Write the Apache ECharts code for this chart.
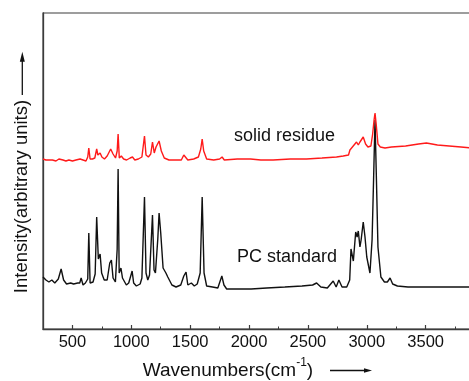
<!DOCTYPE html>
<html>
<head>
<meta charset="utf-8">
<script src="https://cdn.jsdelivr.net/npm/echarts@6/dist/echarts.min.js"></script>
<style>
  html, body { margin: 0; padding: 0; background: #fff; }
  #chart { width: 469px; height: 381px; }
</style>
</head>
<body>
<div id="chart"></div>
<script>
// Raman spectra: PC standard vs. solid residue (intensity in arbitrary units)
const pcWavenumber = [
  250, 275, 300, 325, 350, 380, 404, 425, 450, 485, 510, 545, 562, 574, 590, 610, 630, 639, 650,
  675, 693, 706, 720, 735, 748, 770, 795, 817, 831, 845, 865, 880, 888, 897, 912, 925, 940, 958,
  978, 1000, 1007, 1020, 1043, 1075, 1090, 1112, 1125, 1140, 1155, 1180, 1193, 1205, 1225, 1236,
  1250, 1270, 1294, 1310, 1325, 1345, 1380, 1420, 1446, 1465, 1480, 1510, 1535, 1560, 1585, 1602,
  1618, 1640, 1690, 1735, 1769, 1787, 1810, 1900, 2018, 2150, 2304, 2450, 2540, 2574, 2610, 2665,
  2715, 2740, 2763, 2790, 2830, 2855, 2866, 2886, 2906, 2918, 2928, 2942, 2952, 2970, 2985, 3000,
  3027, 3045, 3058, 3070, 3082, 3095, 3120, 3150, 3175, 3198, 3220, 3260, 3350, 3500, 3700, 3900
];
const pcIntensity = [
  52, 49, 47, 49, 46, 50, 60, 49, 45, 46, 45, 46, 46, 51, 44, 46, 50, 96, 46,
  47, 55, 112, 70, 75, 56, 49, 49, 66, 69, 51, 47, 80, 160, 56, 61, 51, 52, 44,
  46, 55, 58, 46, 43, 45, 51, 132, 56, 49, 54, 114, 59, 56, 90, 116,
  96, 61, 56, 52, 54, 44, 42, 44, 53, 57, 44, 46, 43, 45, 56, 132,
  56, 43, 42, 41, 53, 44, 40, 40, 40, 41, 42, 43, 44, 46, 42, 41,
  48, 42, 49, 42, 42, 49, 80, 68, 97, 92, 98, 82, 89, 107, 92, 72,
  56, 89, 150, 209, 150, 82, 52, 47, 47, 51, 45, 43, 42, 42, 42, 42
];

const residueWavenumber = [
  250, 275, 300, 330, 360, 385, 400, 420, 445, 470, 500, 530, 565, 590, 615, 630, 639, 650, 670,
  690, 706, 716, 735, 750, 772, 795, 825, 845, 866, 880, 888, 898, 915, 935, 960, 990, 1010, 1030,
  1060, 1090, 1112, 1125, 1145, 1165, 1180, 1195, 1210, 1236, 1255, 1280, 1320, 1380, 1425, 1446,
  1460, 1480, 1530, 1570, 1590, 1602, 1615, 1640, 1700, 1750, 1771, 1790, 1900, 2013, 2100, 2205,
  2350, 2488, 2620, 2743, 2800, 2845, 2857, 2870, 2885, 2900, 2913, 2928, 2942, 2955, 2970, 2990,
  3010, 3035, 3050, 3062, 3070, 3080, 3095, 3115, 3130, 3155, 3210, 3330, 3440, 3507, 3600, 3700,
  3800, 3900
];
const residueIntensity = [
  170, 169, 169, 169, 168, 170, 172, 169, 168, 169, 168, 169, 170, 169, 168, 172, 181, 170, 170,
  171, 180, 174, 176, 172, 170, 173, 180, 175, 171, 178, 195, 171, 173, 170, 169, 171, 172, 169,
  170, 172, 193, 174, 172, 175, 187, 176, 182, 188, 178, 171, 169, 169, 169, 174,
  172, 169, 170, 172, 180, 190, 178, 170, 169, 170, 172, 169, 170, 170, 169, 169,
  170, 170, 171, 172, 173, 174, 179, 180, 183, 185, 187, 184, 187, 188, 192, 185,
  182, 183, 195, 209, 216, 205, 185, 182, 180, 181, 182, 183, 185, 186, 184, 183,
  182, 181
];

const majorTicks = [500, 1000, 1500, 2000, 2500, 3000, 3500];
const minorTicks = [750, 1250, 1750, 2250, 2750, 3250, 3750];

const FONT = '"Liberation Sans", Arial, Helvetica, sans-serif';
const INK = '#111111';
const FRAME = '#3c3c3c';

const zip = (xs, ys) => xs.map((x, i) => [x, ys[i]]);

const chart = echarts.init(document.getElementById('chart'), null, { renderer: 'canvas' });

chart.setOption({
  animation: false,
  backgroundColor: '#ffffff',
  grid: {
    left: 43, top: 13, bottom: 52, right: -15.5,
    outerBoundsMode: 'none', containLabel: false,
    show: true, borderColor: FRAME, borderWidth: 1.2, backgroundColor: 'transparent'
  },
  xAxis: [
    {
      type: 'value', min: 250, max: 4000, position: 'bottom',
      axisLine: { show: true, lineStyle: { color: FRAME, width: 1.3 } },
      axisTick: { show: true, inside: true, length: 4, customValues: majorTicks,
                  lineStyle: { color: FRAME, width: 1.2 } },
      axisLabel: { show: true, customValues: majorTicks, margin: 5, color: INK,
                   fontSize: 16.5, fontFamily: FONT, formatter: v => String(v) },
      splitLine: { show: false }
    },
    {
      type: 'value', min: 250, max: 4000, position: 'bottom',
      axisLine: { show: false },
      axisTick: { show: true, inside: true, length: 2.5, customValues: minorTicks,
                  lineStyle: { color: FRAME, width: 1 } },
      axisLabel: { show: false },
      splitLine: { show: false }
    }
  ],
  yAxis: {
    type: 'value', min: 0, max: 316,
    axisLine: { show: true, lineStyle: { color: FRAME, width: 1.3 } },
    axisTick: { show: false },
    axisLabel: { show: false },
    splitLine: { show: false }
  },
  series: [
    {
      name: 'PC standard', type: 'line', xAxisIndex: 0,
      data: zip(pcWavenumber, pcIntensity),
      showSymbol: false, lineStyle: { color: '#111111', width: 1.4 }
    },
    {
      name: 'solid residue', type: 'line', xAxisIndex: 0,
      data: zip(residueWavenumber, residueIntensity),
      showSymbol: false, lineStyle: { color: '#ff1a1a', width: 1.4 }
    }
  ],
  graphic: [
    { type: 'text', x: 284.5, y: 136,
      style: { text: 'solid residue', fill: INK, font: '18px ' + FONT,
               textAlign: 'center', textVerticalAlign: 'middle' } },
    { type: 'text', x: 287, y: 257,
      style: { text: 'PC standard', fill: INK, font: '18px ' + FONT,
               textAlign: 'center', textVerticalAlign: 'middle' } },
    // x-axis title with superscript and arrow
    { type: 'text', x: 142.7, y: 370.5,
      style: { text: 'Wavenumbers(cm{sup|-1})', fill: INK, fontSize: 19, fontFamily: FONT,
               lineHeight: 28, textAlign: 'left', textVerticalAlign: 'middle',
               rich: { sup: { fontSize: 12, lineHeight: 12, verticalAlign: 'top',
                              fontFamily: FONT, fill: INK } } } },
    { type: 'line', shape: { x1: 330, y1: 370.5, x2: 366, y2: 370.5 },
      style: { stroke: INK, lineWidth: 1.3 } },
    { type: 'polygon', shape: { points: [[364, 368.2], [372, 370.5], [364, 372.8]] },
      style: { fill: INK } },
    // y-axis title with arrow
    { type: 'text', x: 21.5, y: 196.5, rotation: Math.PI / 2,
      style: { text: 'Intensity(arbitrary units)', fill: INK, font: '18.5px ' + FONT,
               textAlign: 'center', textVerticalAlign: 'middle' } },
    { type: 'line', shape: { x1: 22.3, y1: 95, x2: 22.3, y2: 60 },
      style: { stroke: INK, lineWidth: 1.3 } },
    { type: 'polygon', shape: { points: [[19.8, 61.7], [22.3, 51.7], [24.8, 61.7]] },
      style: { fill: INK } }
  ]
});
</script>
</body>
</html>
